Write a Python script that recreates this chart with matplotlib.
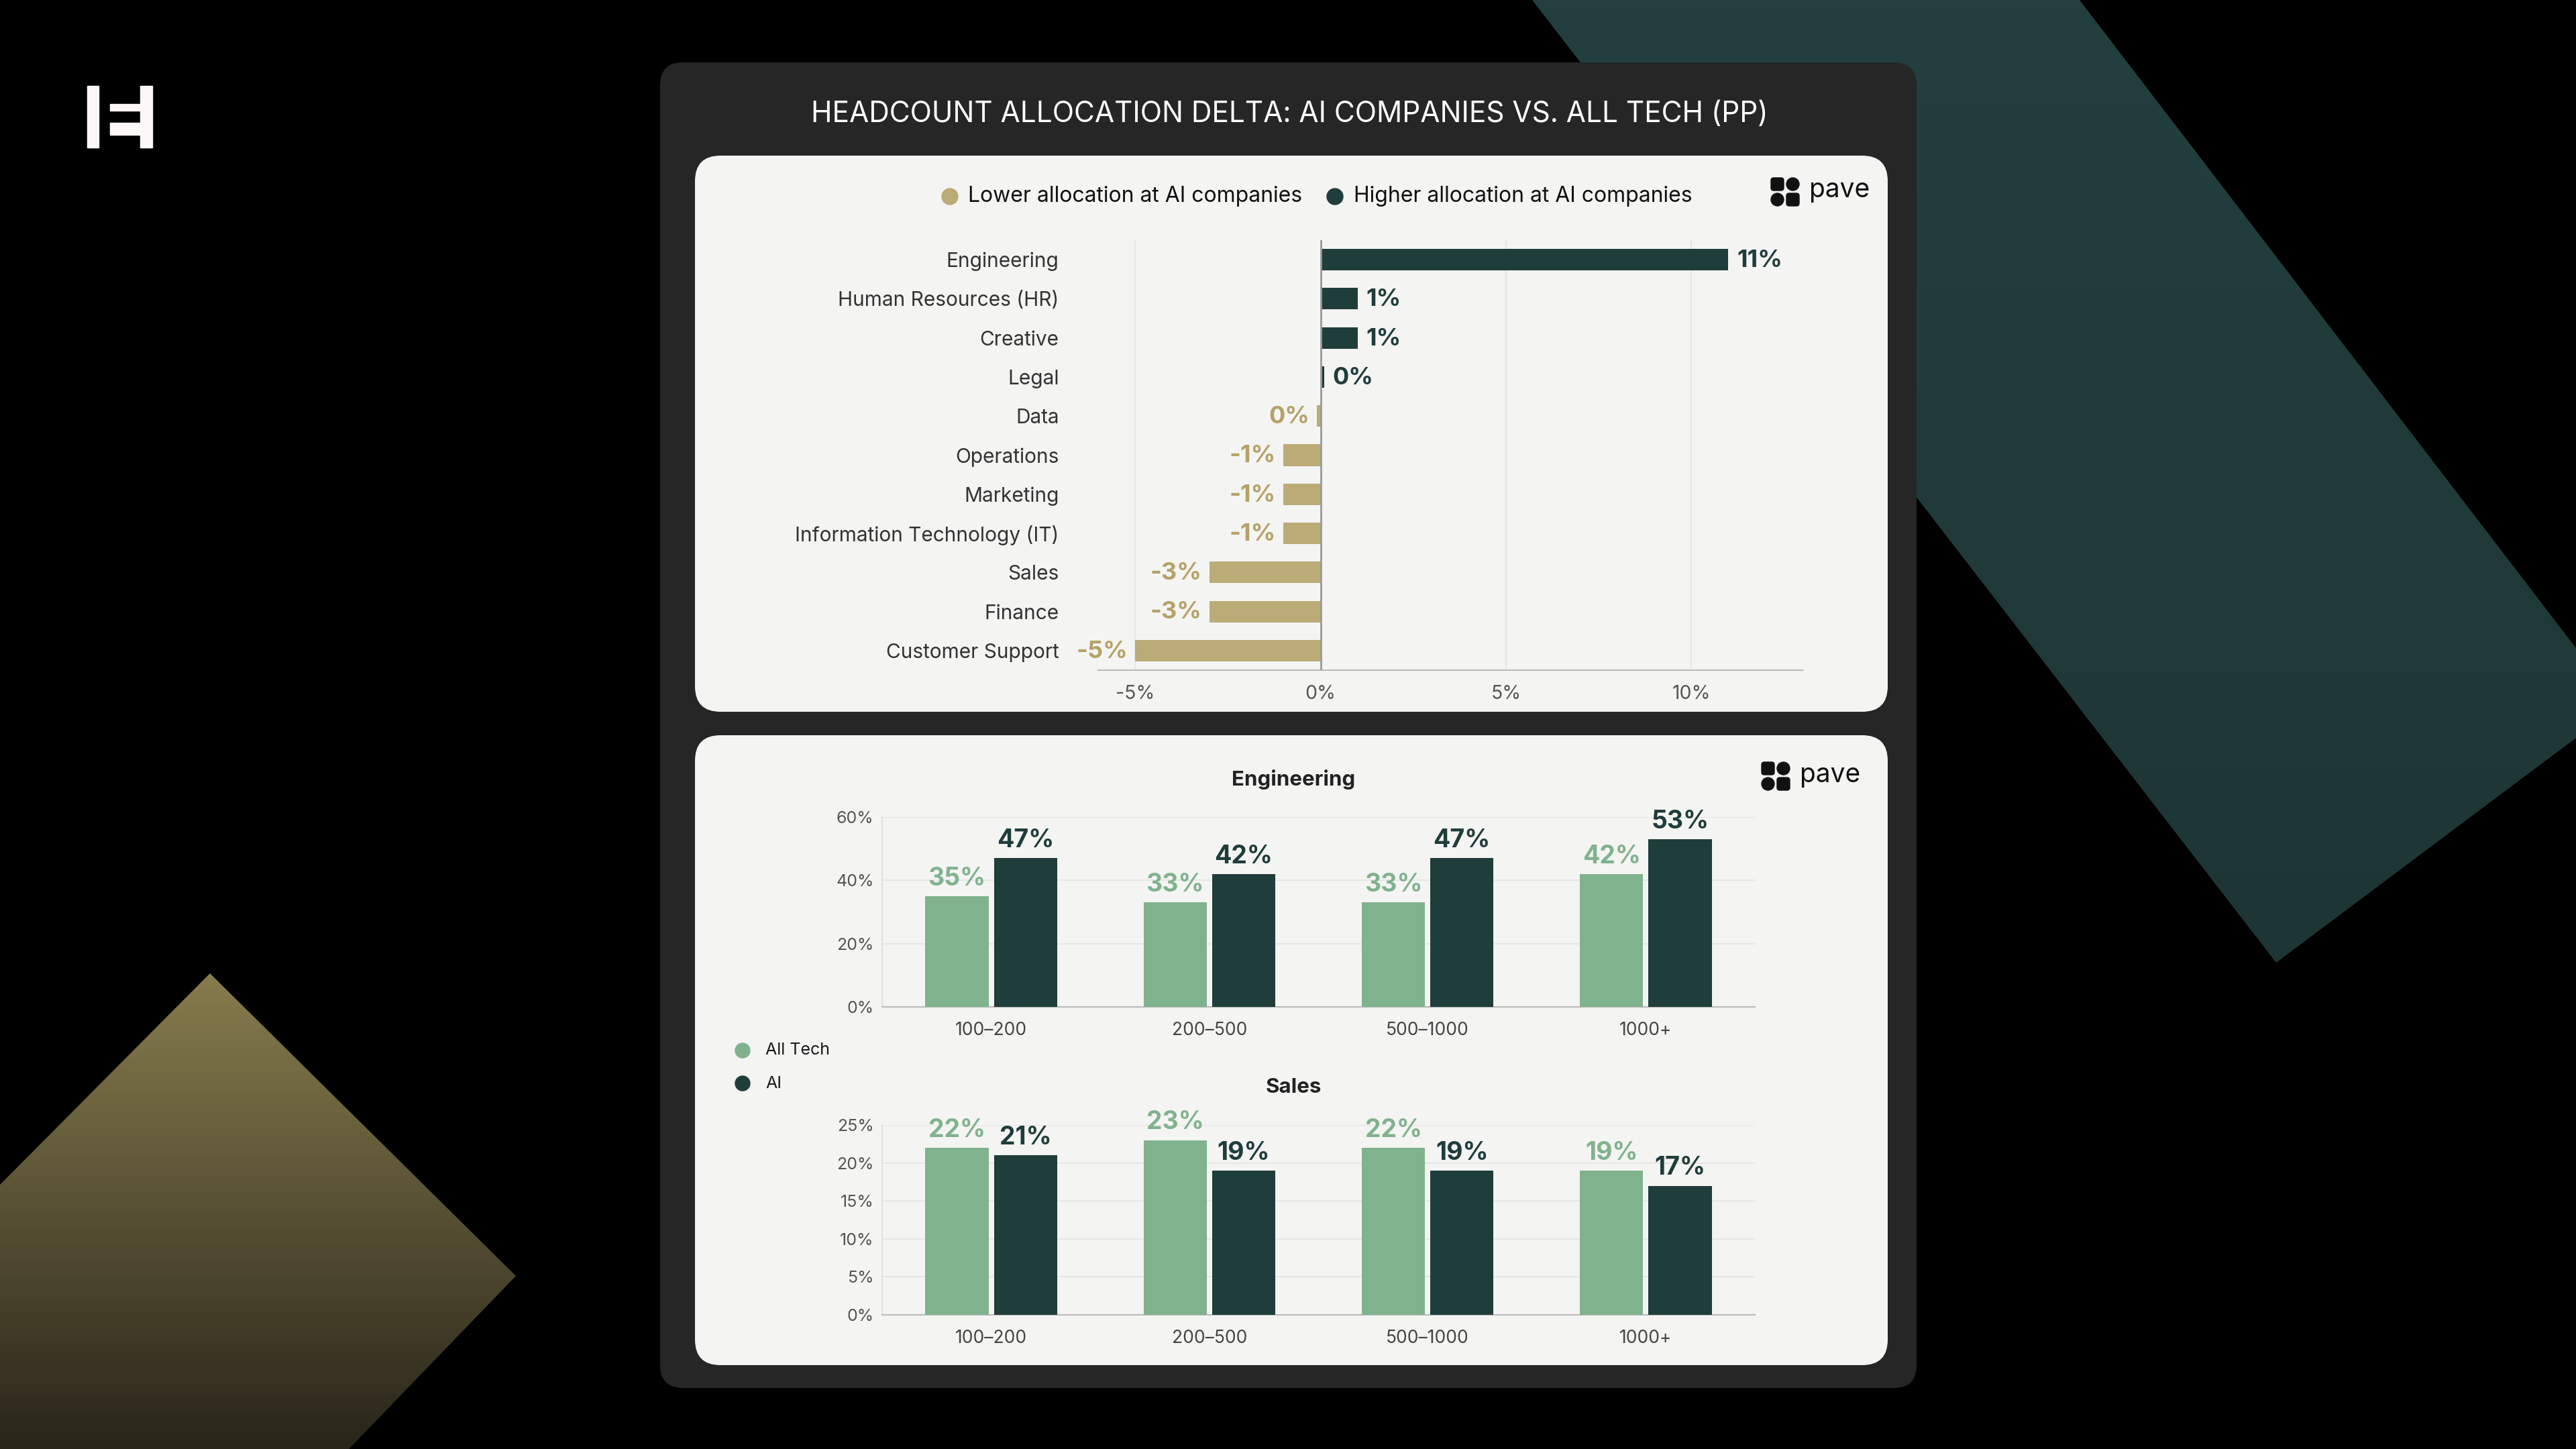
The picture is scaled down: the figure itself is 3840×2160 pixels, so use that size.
import numpy as np
import matplotlib
matplotlib.use("Agg")
import matplotlib.pyplot as plt
from matplotlib.patches import Polygon, FancyBboxPatch, Rectangle, Circle

# Datos del gráfico
categories = [
    "Engineering", "Human Resources (HR)", "Creative", "Legal", "Data",
    "Operations", "Marketing", "Information Technology (IT)", "Sales",
    "Finance", "Customer Support",
]
delta_pp = [11, 1, 1, 0.1, -0.1, -1, -1, -1, -3, -3, -5]
delta_ticks = [-5, 0, 5, 10]

size_bands = ["100\u2013200", "200\u2013500", "500\u20131000", "1000+"]
eng_all_tech = [35, 33, 33, 42]
eng_ai = [47, 42, 47, 53]
eng_ticks = [0, 20, 40, 60]
sales_all_tech = [22, 23, 22, 19]
sales_ai = [21, 19, 19, 17]
sales_ticks = [0, 5, 10, 15, 20, 25]

title = "HEADCOUNT ALLOCATION DELTA: AI COMPANIES VS. ALL TECH (PP)"

# Colores
TEAL = "#1f3d3a"
GOLD = "#bbab77"
GOLD_TXT = "#b5a268"
GREEN = "#80b28e"
CARD = "#f4f4f2"
PANEL = "#262626"
GRID = "#e6e6e4"

plt.rcParams["font.family"] = ["Inter", "DejaVu Sans"]

W, H = 3840, 2160
fig = plt.figure(figsize=(W / 100, H / 100), dpi=100)
fig.patch.set_facecolor("black")


def px_rect(x0, y0, x1, y1):
    # paso coordenadas en píxeles (origen arriba a la izquierda) a fracción de figura
    return [x0 / W, 1 - y1 / H, (x1 - x0) / W, (y1 - y0) / H]


# Capa de fondo en píxeles
bg = fig.add_axes([0, 0, 1, 1])
bg.set_xlim(0, W)
bg.set_ylim(H, 0)
bg.axis("off")


def gradient_shape(points, top_color, bottom_color, y0, y1):
    poly = Polygon(points, closed=True, facecolor="none", edgecolor="none")
    bg.add_patch(poly)
    c0 = np.array(matplotlib.colors.to_rgb(top_color))
    c1 = np.array(matplotlib.colors.to_rgb(bottom_color))
    t = np.linspace(0, 1, 256)[:, None]
    img = (c0 * (1 - t) + c1 * t)[:, None, :]
    im = bg.imshow(img, extent=[0, W, y1, y0], aspect="auto", zorder=1)
    im.set_clip_path(poly)


# Franja verde azulado arriba a la derecha
gradient_shape([(2284, 0), (3100, 0), (3840, 966), (3840, 1100), (3393, 1435)],
               "#233f3f", "#1e3535", 0, 1435)
# Triángulo oliva abajo a la izquierda
gradient_shape([(0, 1766), (313, 1451), (769, 1902), (520, 2160), (0, 2160)],
               "#877c4d", "#29251a", 1451, 2160)
bg.set_xlim(0, W)
bg.set_ylim(H, 0)

# Logo de arriba a la izquierda
for (x0, y0, x1, y1) in [(130, 128, 147, 220), (209, 128, 227, 220),
                         (164, 155, 209, 165), (164, 183, 209, 201)]:
    bg.add_patch(Rectangle((x0, y0), x1 - x0, y1 - y0, color="#fdf8f8", zorder=3))

# Panel oscuro y tarjetas
bg.add_patch(FancyBboxPatch((984, 93), 1873, 1976, boxstyle="round,pad=0,rounding_size=34",
                            facecolor=PANEL, edgecolor="none", zorder=2))
for (x0, y0, x1, y1) in [(1036, 232, 2814, 1061), (1036, 1096, 2814, 2035)]:
    bg.add_patch(FancyBboxPatch((x0, y0), x1 - x0, y1 - y0,
                                boxstyle="round,pad=0,rounding_size=38",
                                facecolor=CARD, edgecolor="none", zorder=3))

bg.text(1922, 170, title, color="white", fontsize=30.5, ha="center", va="center", zorder=4)


def pave_logo(x, y):
    # icono de cuatro piezas y el texto "pave"
    s = 19
    g = 4
    bg.add_patch(FancyBboxPatch((x, y - s - g / 2), s, s, boxstyle="round,pad=0,rounding_size=4",
                                color="#111111", zorder=5))
    bg.add_patch(Circle((x + s + g + s / 2, y - g / 2 - s / 2), s / 2, color="#111111", zorder=5))
    bg.add_patch(Circle((x + s / 2, y + g / 2 + s / 2), s / 2, color="#111111", zorder=5))
    bg.add_patch(FancyBboxPatch((x + s + g, y + g / 2), s, s, boxstyle="round,pad=0,rounding_size=4",
                                color="#111111", zorder=5))
    bg.text(x + 2 * s + g + 15, y - 2, "pave", fontsize=28, color="#111111",
            ha="left", va="center", zorder=5)


pave_logo(2640, 286)
pave_logo(2626, 1157)

# Leyenda del gráfico superior
bg.add_patch(Circle((1416, 293), 12, color=GOLD, zorder=5))
bg.text(1443, 293, "Lower allocation at AI companies", fontsize=23, color="#111111",
        ha="left", va="center", zorder=5)
bg.add_patch(Circle((1990, 293), 12, color=TEAL, zorder=5))
bg.text(2018, 293, "Higher allocation at AI companies", fontsize=23, color="#111111",
        ha="left", va="center", zorder=5)

# Leyenda de los gráficos inferiores
bg.add_patch(Circle((1107, 1566), 11, color=GREEN, zorder=5))
bg.text(1141, 1566, "All Tech", fontsize=18, color="#1a1a1a", ha="left", va="center", zorder=5)
bg.add_patch(Circle((1107, 1615), 11, color=TEAL, zorder=5))
bg.text(1141, 1615, "AI", fontsize=18, color="#1a1a1a", ha="left", va="center", zorder=5)

# Gráfico 1: diferencia en puntos porcentuales
ax1 = fig.add_axes(px_rect(1637, 358, 2687, 999))
ax1.set_facecolor("none")
ypos = np.arange(len(categories))
bar_colors = [TEAL if v > 0 else GOLD for v in delta_pp]
ax1.barh(ypos, delta_pp, height=0.55, color=bar_colors, zorder=3)
ax1.set_xlim(-6, 13)
ax1.set_ylim(len(categories) - 0.5, -0.5)
for i, v in enumerate(delta_pp):
    label = f"{int(round(v))}%"
    if v > 0:
        ax1.annotate(label, (v, i), xytext=(9, -1), textcoords="offset points", ha="left",
                     va="center", color=TEAL, fontsize=26, fontweight="bold", annotation_clip=False)
    else:
        ax1.annotate(label, (v, i), xytext=(-8, -1), textcoords="offset points", ha="right",
                     va="center", color=GOLD_TXT, fontsize=26, fontweight="bold", annotation_clip=False)
for t in delta_ticks:
    ax1.axvline(t, color="#999999" if t == 0 else GRID, lw=2 if t == 0 else 1.5, zorder=1 if t else 4)
ax1.set_xticks(delta_ticks)
ax1.set_xticklabels([f"{t}%" for t in delta_ticks])
ax1.set_yticks(ypos)
ax1.set_yticklabels(categories)
ax1.tick_params(axis="x", length=0, pad=16, labelsize=20.5, labelcolor="#555555")
ax1.tick_params(axis="y", length=0, pad=42, labelsize=21.5, labelcolor="#333333")
for side in ["top", "right", "left"]:
    ax1.spines[side].set_visible(False)
ax1.spines["bottom"].set_color("#bbbbbb")
ax1.spines["bottom"].set_linewidth(1.5)


# Gráficos 2 y 3: comparación por tamaño de empresa
def plot_group(rect, all_tech, ai, ticks, name):
    ax = fig.add_axes(px_rect(*rect))
    ax.set_facecolor("none")
    x = np.arange(len(size_bands))
    b1 = ax.bar(x - 0.157, all_tech, 0.29, color=GREEN, zorder=3)
    b2 = ax.bar(x + 0.157, ai, 0.29, color=TEAL, zorder=3)
    ax.bar_label(b1, labels=[f"{v}%" for v in all_tech], padding=6, color=GREEN,
                 fontsize=27, fontweight="bold")
    ax.bar_label(b2, labels=[f"{v}%" for v in ai], padding=6, color=TEAL,
                 fontsize=27, fontweight="bold")
    ax.set_xlim(-0.5, len(size_bands) - 0.5)
    ax.set_ylim(0, ticks[-1])
    ax.set_yticks(ticks)
    ax.set_yticklabels([f"{t}%" for t in ticks])
    ax.set_xticks(x)
    ax.set_xticklabels(size_bands)
    ax.grid(axis="y", color=GRID, lw=1.5, zorder=0)
    ax.tick_params(axis="y", length=0, pad=9, labelsize=18, labelcolor="#555555")
    ax.tick_params(axis="x", length=0, pad=16, labelsize=19, labelcolor="#444444")
    for side in ["top", "right"]:
        ax.spines[side].set_visible(False)
    ax.spines["left"].set_color("#e0e0e0")
    ax.spines["bottom"].set_color("#bbbbbb")
    ax.spines["left"].set_linewidth(1.5)
    ax.spines["bottom"].set_linewidth(1.5)
    top = rect[1]
    bg.text(1928, top - 56, name, fontsize=22.5,
            fontweight="bold", color="#222222", ha="center", va="center", zorder=5)
    return ax


plot_group((1315, 1218, 2616, 1501), eng_all_tech, eng_ai, eng_ticks, "Engineering")
plot_group((1315, 1677, 2616, 1960), sales_all_tech, sales_ai, sales_ticks, "Sales")

fig.savefig("out.png", dpi=100, facecolor=fig.get_facecolor())
